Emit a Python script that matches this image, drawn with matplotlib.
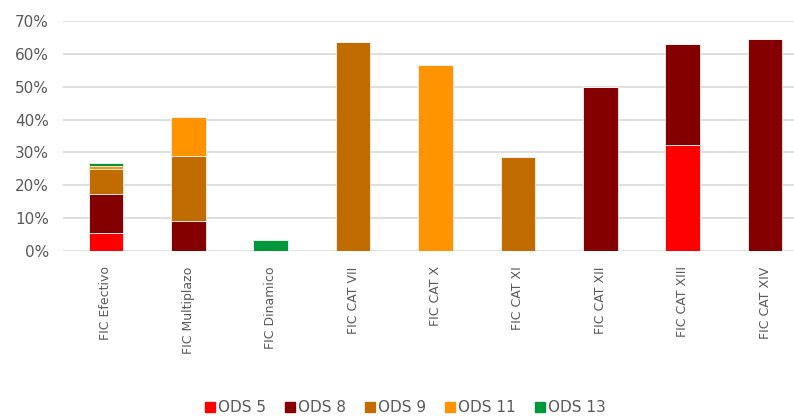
import matplotlib
matplotlib.use("Agg")
import matplotlib.pyplot as plt
import numpy as np
from matplotlib.lines import Line2D
from matplotlib.ticker import PercentFormatter

# categories and stacked series (fractions)
categories = ["FIC Efectivo", "FIC Multiplazo", "FIC Dinamico", "FIC CAT VII",
              "FIC CAT X", "FIC CAT XI", "FIC CAT XII", "FIC CAT XIII", "FIC CAT XIV"]
ods5 = [0.056, 0.0, 0.0, 0.0, 0.0, 0.0, 0.0, 0.324, 0.0]
ods8 = [0.116, 0.091, 0.0, 0.0, 0.0, 0.0, 0.498, 0.307, 0.644]
ods9 = [0.077, 0.199, 0.0, 0.635, 0.0, 0.287, 0.0, 0.0, 0.0]
ods11 = [0.010, 0.117, 0.0, 0.0, 0.565, 0.0, 0.0, 0.0, 0.0]
ods13 = [0.010, 0.0, 0.033, 0.0, 0.0, 0.0, 0.0, 0.0, 0.0]

series_names = ["ODS 5", "ODS 8", "ODS 9", "ODS 11", "ODS 13"]
series_vals = [ods5, ods8, ods9, ods11, ods13]
colors = ["#FF0000", "#840000", "#C06C00", "#FF9400", "#00973A"]

text_col = "#595959"

fig = plt.figure(figsize=(7.94, 4.16), dpi=100)
ax = fig.add_axes([63 / 794, 1 - 251 / 416, 1 - 63 / 794, (251 - 21) / 416])

x = np.arange(len(categories))
bottom = np.zeros(len(categories))
for name, vals, col in zip(series_names, series_vals, colors):
    vals = np.array(vals)
    ax.bar(x, vals, width=0.42, bottom=bottom, color=col,
           edgecolor="#f2f2f2", linewidth=0.6, zorder=3)
    bottom += vals

ax.set_ylim(0, 0.70)
ax.set_xlim(-0.52, 8.35)
ax.set_yticks(np.arange(0, 0.71, 0.1))
ax.yaxis.set_major_formatter(PercentFormatter(1.0, decimals=0))
ax.grid(axis="y", color="#d9d9d9", linewidth=1.2, zorder=0)
ax.set_xticks(x)
ax.set_xticklabels(categories, rotation=90, va="top", ha="center", fontsize=9)
ax.tick_params(axis="both", length=0, labelcolor=text_col)
ax.tick_params(axis="x", pad=11)
ax.tick_params(axis="y", pad=10, labelsize=11)
for s in ax.spines.values():
    s.set_visible(False)

handles = [Line2D([0], [0], marker="s", linestyle="none", markersize=7,
                  markerfacecolor=c, markeredgecolor=c) for c in colors]
fig.legend(handles, series_names, loc="center", bbox_to_anchor=(404 / 794, 1 - 408 / 416),
           ncol=5, frameon=False, fontsize=11, labelcolor=text_col,
           handletextpad=0.0, columnspacing=1.1, handlelength=1.0)

fig.savefig("out.png", dpi=100)
